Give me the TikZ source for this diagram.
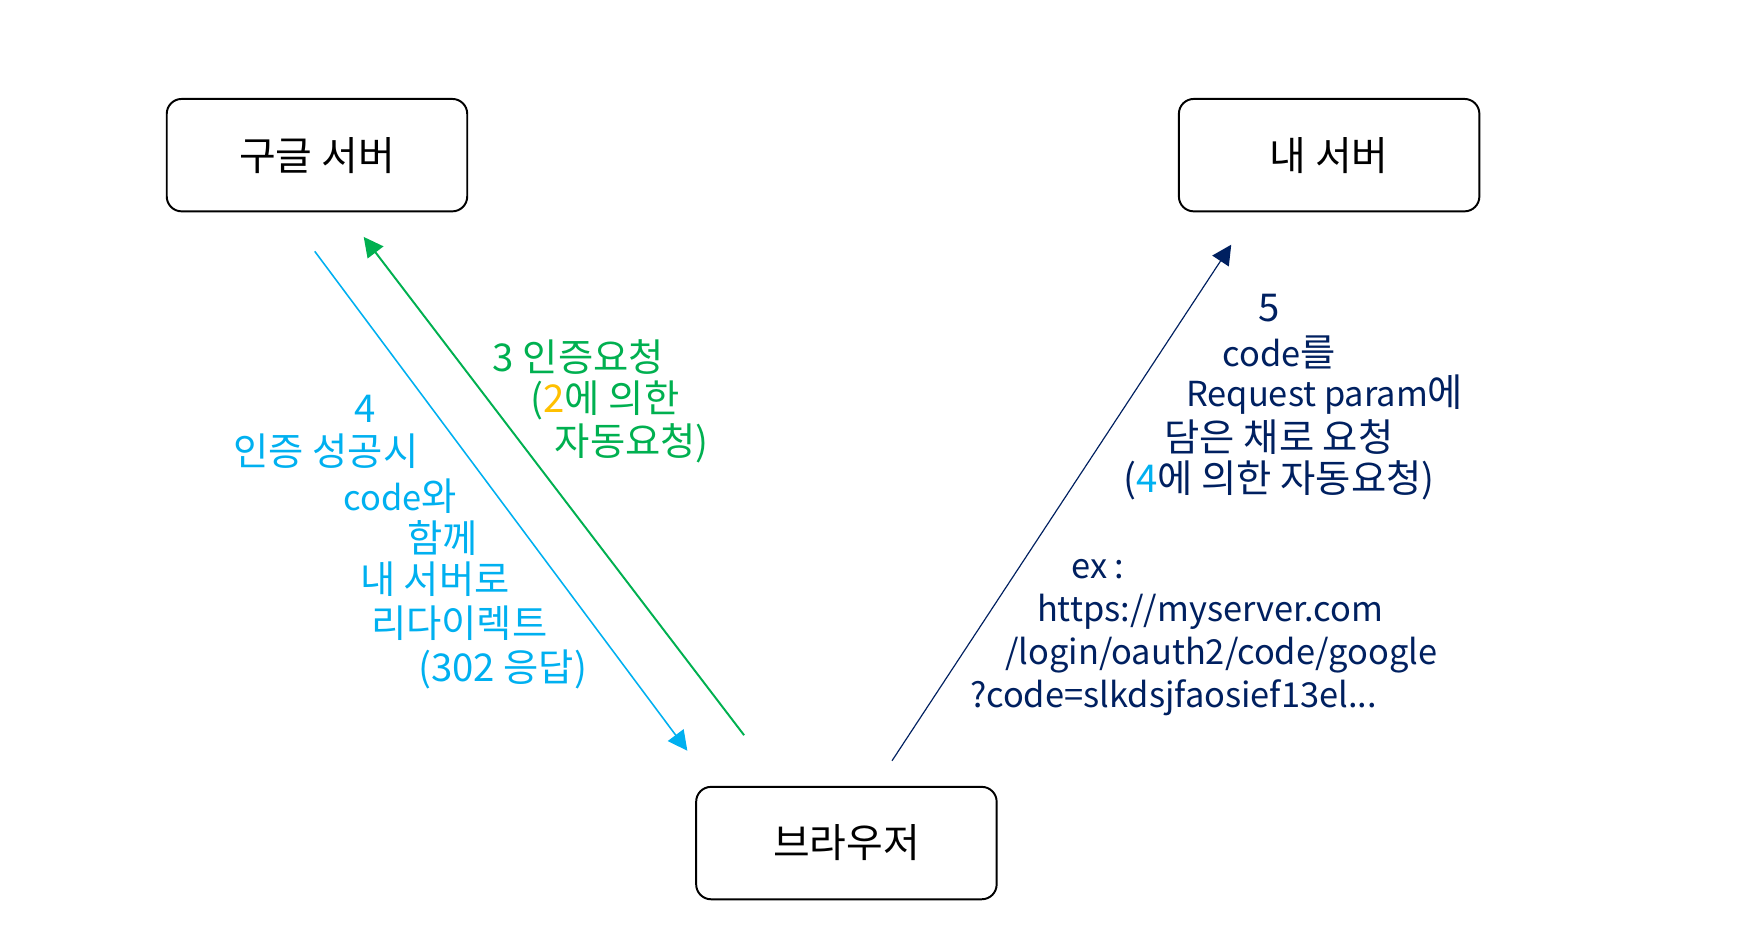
\documentclass[tikz,border=0pt]{standalone}
\usepackage{fontspec}
\setmainfont{Noto Sans CJK KR}
\usetikzlibrary{arrows.meta}
\definecolor{myblue}{RGB}{0,176,240}
\definecolor{mygreen}{RGB}{0,176,80}
\definecolor{mynavy}{RGB}{0,32,96}
\definecolor{myorange}{RGB}{255,192,0}
\newcommand{\entext}[1]{{\fontsize{8.8}{11}\selectfont #1}}

\tikzset{
    serverbox/.style={draw, line width=0.5pt, rounded corners=3.8pt,
        minimum width=2.7cm, minimum height=1.01cm, font=\fontsize{10.2}{12}\selectfont},
    lbl/.style={anchor=center, inner sep=0pt, font=\fontsize{9.8}{11}\selectfont},
    lblen/.style={lbl, font=\fontsize{8.8}{11}\selectfont},
    flow/.style={-{Triangle[length=5pt, width=5pt]}},
}

\begin{document}
\begin{tikzpicture}[x=0.01cm, y=-0.01cm]
    \useasboundingbox (0, 0) rectangle (1568, 849.6);
    % Boxes
    \node[serverbox] (G) at (285, 139.5) {구글 서버};
    \node[serverbox] (M) at (1195, 139.5) {내 서버};
    \node[serverbox] (B) at (761, 758) {브라우저};
    % Arrow ends
    \coordinate (g4) at (283, 226);
    \coordinate (b4) at (618, 675);
    \coordinate (b3) at (669, 661);
    \coordinate (g3) at (327, 213);
    \coordinate (b5) at (802, 684);
    \coordinate (m5) at (1107, 220);
    % Arrows
    \draw[flow, myblue, line width=0.4pt] (g4) -- (b4);
    \draw[flow, mygreen, line width=0.5pt] (b3) -- (g3);
    \draw[flow, mynavy, line width=0.3pt] (b5) -- (m5);
    % Labels of 3
    \node[lbl, mygreen] (t31) at (520, 321) {3 인증요청};
    \node[lbl, mygreen] (t32) at (544, 360) {(\textcolor{myorange}{2}에 의한};
    \node[lbl, mygreen] (t33) at (568, 399) {자동요청)};
    % Labels of 4
    \node[lbl, myblue] (t41) at (328, 368) {4};
    \node[lbl, myblue] (t42) at (293, 406) {인증 성공시};
    \node[lbl, myblue] (t43) at (360, 446) {\entext{code}와};
    \node[lbl, myblue] (t44) at (398, 484) {함께};
    \node[lbl, myblue] (t45) at (391, 521) {내 서버로};
    \node[lbl, myblue] (t46) at (413, 560) {리다이렉트};
    \node[lbl, myblue] (t47) at (452, 602) {(302 응답)};
    % Labels of 5
    \node[lbl, mynavy] (t51) at (1141, 277) {5};
    \node[lbl, mynavy] (t52) at (1150, 317) {\entext{code}를};
    \node[lbl, mynavy] (t53) at (1191, 355) {\entext{Request param}에};
    \node[lbl, mynavy] (t54) at (1150, 393) {담은 채로 요청};
    \node[lbl, mynavy] (t55) at (1150, 432) {(\textcolor{myblue}{4}에 의한 자동요청)};
    \node[lblen, mynavy] (t56) at (987, 512) {ex :};
    \node[lblen, mynavy] (t57) at (1088, 550) {https://myserver.com};
    \node[lblen, mynavy] (t58) at (1098, 589) {/login/oauth2/code/google};
    \node[lblen, mynavy] (t59) at (1055, 627) {?code=slkdsjfaosief13el...};
\end{tikzpicture}
\end{document}
